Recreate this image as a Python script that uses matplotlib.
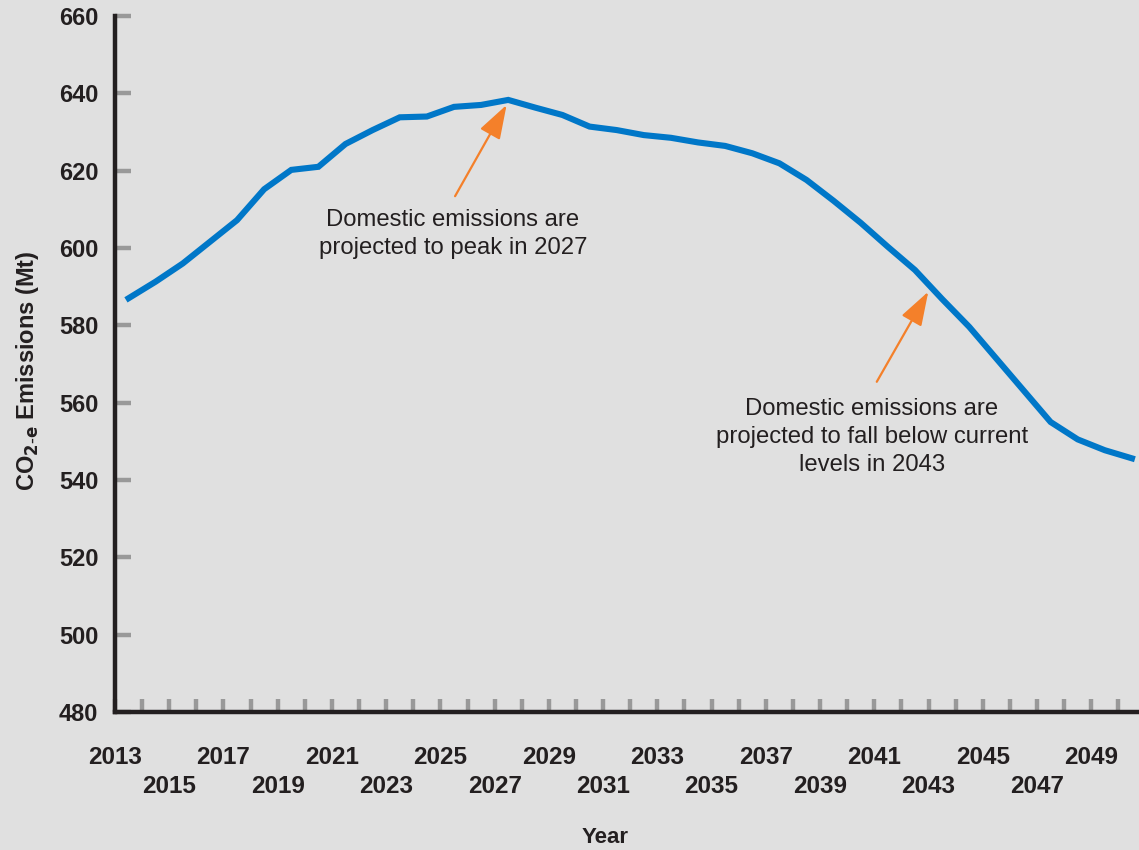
import numpy as np
import matplotlib
matplotlib.use('Agg')
import matplotlib.pyplot as plt

years = list(range(2013, 2051))
emissions = [587.0, 591.3, 596.0, 601.6, 607.2, 615.2, 620.2, 621.0, 626.9, 630.5,
             633.8, 634.0, 636.5, 637.0, 638.3, 636.3, 634.4, 631.4, 630.5, 629.2,
             628.5, 627.3, 626.4, 624.5, 621.9, 617.6, 612.2, 606.5, 600.3, 594.3,
             586.8, 579.6, 571.4, 563.2, 555.0, 550.5, 547.7, 545.6]
yticks = list(range(480, 661, 20))
label_years = list(range(2013, 2050, 2))

note_peak = "Domestic emissions are\nprojected to peak in 2027"
note_fall = "Domestic emissions are\nprojected to fall below current\nlevels in 2043"

bg = '#e0e0e0'
dark = '#231f20'
tickgrey = '#999999'
plt.rcParams['font.family'] = ['Liberation Sans', 'DejaVu Sans']

fig = plt.figure(figsize=(11.39, 8.5), dpi=100, facecolor=bg)
ax = fig.add_axes([115 / 1139, 1 - 712 / 850, 1 - 115 / 1139, (712 - 16) / 850])
ax.set_facecolor(bg)

# points sit in the middle of each year slot
xs = np.array(years) + 0.5
ax.plot(xs, emissions, color='#0077c8', lw=4.4, solid_joinstyle='miter', clip_on=False)

ax.set_xlim(2013, 2050.76)
ax.set_ylim(480, 660)

for s in ['top', 'right']:
    ax.spines[s].set_visible(False)
for s in ['left', 'bottom']:
    ax.spines[s].set_linewidth(3.2)
    ax.spines[s].set_color(dark)
    ax.spines[s].set_capstyle('projecting')

ax.set_yticks(yticks)
ax.set_yticklabels([str(v) for v in yticks], fontsize=17, fontweight='bold', color=dark)
ax.tick_params(axis='y', direction='in', length=11.5, width=3.2, color=tickgrey, pad=12)

ax.set_xticks(years)
ax.set_xticklabels([str(y) if y in label_years else '' for y in years],
                   fontsize=17.5, fontweight='bold', color=dark)
ax.tick_params(axis='x', direction='in', length=9.5, width=3.2, color=tickgrey)
for y, t in zip(years, ax.xaxis.get_major_ticks()):
    if (y - 2013) % 4 == 0:
        t.set_pad(24.5)
    else:
        t.set_pad(45.5)

ax.set_xlabel('Year', fontsize=16, fontweight='bold', color=dark)
ax.xaxis.set_label_coords(0.479, -0.165)
ax.set_ylabel(r'CO$_{\mathbf{2\text{-}e}}$ Emissions (Mt)', fontsize=17, fontweight='bold', color=dark)
ax.yaxis.set_label_coords(-0.072, 0.49)

arrow = dict(arrowstyle='-|>,head_length=2.1,head_width=0.7', color='#f4802a', lw=1.6,
             shrinkA=0, shrinkB=0)
ax.annotate('', xy=(2027.44, 637.0), xytext=(2025.54, 613.4), arrowprops=arrow)
ax.text(2025.46, 603.6, note_peak, ha='center', va='center', fontsize=17.2,
        color=dark, linespacing=1.35)
ax.annotate('', xy=(2042.99, 588.7), xytext=(2041.09, 565.4), arrowprops=arrow)
ax.text(2040.9, 551.1, note_fall, ha='center', va='center', fontsize=17.2,
        color=dark, linespacing=1.35)

fig.savefig('out.png', dpi=100, facecolor=bg)
